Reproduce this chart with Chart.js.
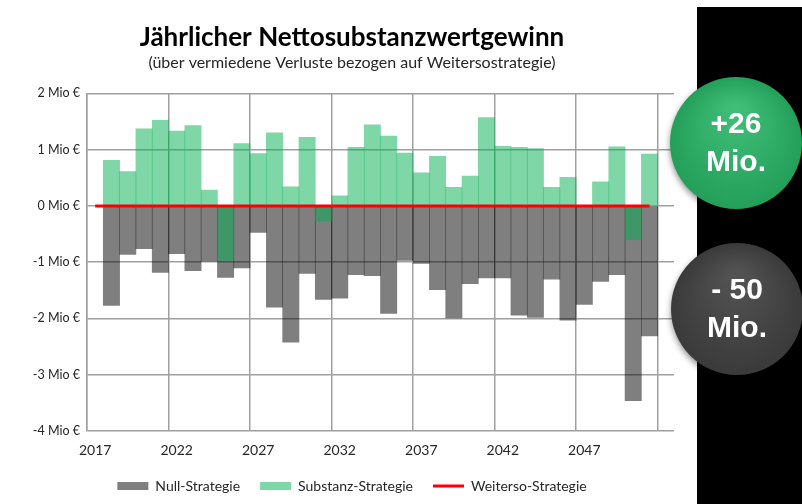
<!DOCTYPE html>
<html lang="de">
<head>
<meta charset="utf-8">
<title>Jährlicher Nettosubstanzwertgewinn</title>
<script src="https://cdn.jsdelivr.net/npm/chart.js@4.4.1/dist/chart.umd.min.js"></script>
<style>
html, body { margin: 0; padding: 0; background: #fff; }
#wrap { width: 802px; height: 504px; }
</style>
</head>
<body>
<div id="wrap"><canvas id="nettoChart" width="802" height="504"></canvas></div>
<script>
// Jahre (letzte Kategorie 2052 bleibt leer)
var jahre = [2017, 2018, 2019, 2020, 2021, 2022, 2023, 2024, 2025, 2026,
             2027, 2028, 2029, 2030, 2031, 2032, 2033, 2034, 2035, 2036,
             2037, 2038, 2039, 2040, 2041, 2042, 2043, 2044, 2045, 2046,
             2047, 2048, 2049, 2050, 2051, 2052];

// Mio € pro Jahr
var nullStrategie = [null, -1.77, -0.86, -0.76, -1.18, -0.85, -1.15, -0.98, -1.27, -1.10,
                     -0.47, -1.80, -2.42, -1.20, -1.66, -1.64, -1.22, -1.24, -1.91, -0.97,
                     -1.02, -1.49, -1.99, -1.38, -1.28, -1.28, -1.94, -1.98, -1.30, -2.03,
                     -1.75, -1.34, -1.22, -3.46, -2.31, null];

var substanzStrategie = [null, 0.81, 0.61, 1.37, 1.52, 1.33, 1.43, 0.28, -0.97, 1.11,
                         0.93, 1.30, 0.34, 1.22, -0.27, 0.18, 1.04, 1.44, 1.24, 0.94,
                         0.59, 0.88, 0.33, 0.53, 1.57, 1.06, 1.04, 1.02, 0.33, 0.51,
                         0.00, 0.43, 1.05, -0.60, 0.92, null];

var weitersoStrategie = [0, 0, 0, 0, 0, 0, 0, 0, 0, 0,
                         0, 0, 0, 0, 0, 0, 0, 0, 0, 0,
                         0, 0, 0, 0, 0, 0, 0, 0, 0, 0,
                         0, 0, 0, 0, 0, null];

var yTicks = [-4, -3, -2, -1, 0, 1, 2];

function summe(arr) {
  var s = 0;
  arr.forEach(function (v) { if (v !== null) s += v; });
  return Math.round(s);
}
var summeSubstanz = summe(substanzStrategie);
var summeNull = summe(nullStrategie);

var schrift = "Lato, 'Open Sans', sans-serif";

function badge(ctx, x, y, r, hell, dunkel, zeilen) {
  ctx.save();
  ctx.shadowColor = 'rgba(0,0,0,0.45)';
  ctx.shadowBlur = 6;
  ctx.shadowOffsetY = 3;
  var g = ctx.createRadialGradient(x, y - r * 0.5, r * 0.1, x, y, r);
  g.addColorStop(0, hell);
  g.addColorStop(1, dunkel);
  ctx.fillStyle = g;
  ctx.beginPath();
  ctx.arc(x, y, r, 0, Math.PI * 2);
  ctx.fill();
  ctx.restore();

  ctx.save();
  ctx.fillStyle = '#fff';
  ctx.font = "bold 30px 'Liberation Sans', Arial, sans-serif";
  ctx.textAlign = 'center';
  ctx.textBaseline = 'middle';
  ctx.fillText(zeilen[0], x, y - 18);
  ctx.fillText(zeilen[1], x, y + 20);
  ctx.restore();
}

// schwarzer Rand rechts mit den beiden Summen
var seitenPanel = {
  id: 'seitenPanel',
  beforeDraw: function (chart) {
    var c = chart.ctx;
    c.save();
    c.fillStyle = '#fff';
    c.fillRect(0, 0, chart.width, chart.height);
    c.fillStyle = '#000';
    c.fillRect(697, 7, chart.width - 697, chart.height - 7);
    c.restore();
  },
  afterDraw: function (chart) {
    var c = chart.ctx;
    var plus = (summeSubstanz >= 0 ? '+' : '- ') + Math.abs(summeSubstanz);
    var minus = (summeNull >= 0 ? '+' : '- ') + Math.abs(summeNull);
    badge(c, 736, 143, 66, '#3fbd76', '#239f5a', [plus, 'Mio.']);
    badge(c, 737, 309, 66, '#525252', '#3a3a3a', [minus, 'Mio.']);
  }
};

var ctx = document.getElementById('nettoChart').getContext('2d');
var nettoChart = new Chart(ctx, {
  type: 'bar',
  data: {
    labels: jahre,
    datasets: [{
      label: 'Null-Strategie',
      data: nullStrategie,
      backgroundColor: 'rgba(0, 0, 0, 0.5)',
      pointStyle: 'rect',
      order: 2
    }, {
      label: 'Substanz-Strategie',
      data: substanzStrategie,
      backgroundColor: 'rgba(0, 176, 80, 0.5)',
      pointStyle: 'rect',
      order: 1
    }, {
      type: 'line',
      label: 'Weiterso-Strategie',
      data: weitersoStrategie,
      borderColor: '#ff0000',
      backgroundColor: '#ff0000',
      borderWidth: 3,
      pointRadius: 0,
      pointStyle: 'line',
      order: 0
    }]
  },
  options: {
    responsive: false,
    animation: false,
    datasets: {
      bar: { grouped: false, barPercentage: 1, categoryPercentage: 1, borderWidth: 0 }
    },
    layout: { padding: { left: 30, right: 128, top: 20, bottom: 1 } },
    plugins: {
      tooltip: { enabled: false },
      title: {
        display: true,
        text: 'Jährlicher Nettosubstanzwertgewinn',
        color: '#000',
        font: { family: schrift, size: 26, weight: 'bold' },
        padding: { top: 2, bottom: 0 }
      },
      subtitle: {
        display: true,
        text: '(über vermiedene Verluste bezogen auf Weitersostrategie)',
        color: '#262626',
        font: { family: schrift, size: 16 },
        padding: { top: 0, bottom: 21 }
      },
      legend: {
        position: 'bottom',
        labels: {
          usePointStyle: true,
          pointStyleWidth: 31,
          boxWidth: 31,
          boxHeight: 8,
          color: '#262626',
          font: { family: schrift, size: 14 },
          padding: 20,
          sort: function (a, b) { return a.datasetIndex - b.datasetIndex; }
        }
      }
    },
    scales: {
      x: {
        offset: true,
        afterFit: function (s) { s.height = 28; },
        grid: {
          offset: true,
          drawTicks: false,
          lineWidth: 1.5,
          color: function (c) {
            return (c.index !== undefined && c.index % 5 === 0) ? '#a0a0a0' : 'rgba(0,0,0,0)';
          }
        },
        border: { display: false },
        ticks: {
          autoSkip: false,
          maxRotation: 0,
          padding: 11,
          color: '#262626',
          font: { family: schrift, size: 14 },
          callback: function (v, i) { return (i % 5 === 0 && i < 35) ? jahre[i] : ''; }
        }
      },
      y: {
        min: yTicks[0],
        max: yTicks[yTicks.length - 1],
        afterFit: function (s) { s.width = 57; },
        afterBuildTicks: function (s) { s.ticks = yTicks.map(function (v) { return { value: v }; }); },
        grid: { drawTicks: false, lineWidth: 1.5, color: '#a0a0a0' },
        border: { display: true, color: '#a0a0a0', width: 1.5 },
        ticks: {
          padding: 7,
          color: '#262626',
          font: { family: schrift, size: 12.5 },
          callback: function (v) { return v + ' Mio €'; }
        }
      }
    }
  },
  plugins: [seitenPanel]
});
</script>
</body>
</html>
